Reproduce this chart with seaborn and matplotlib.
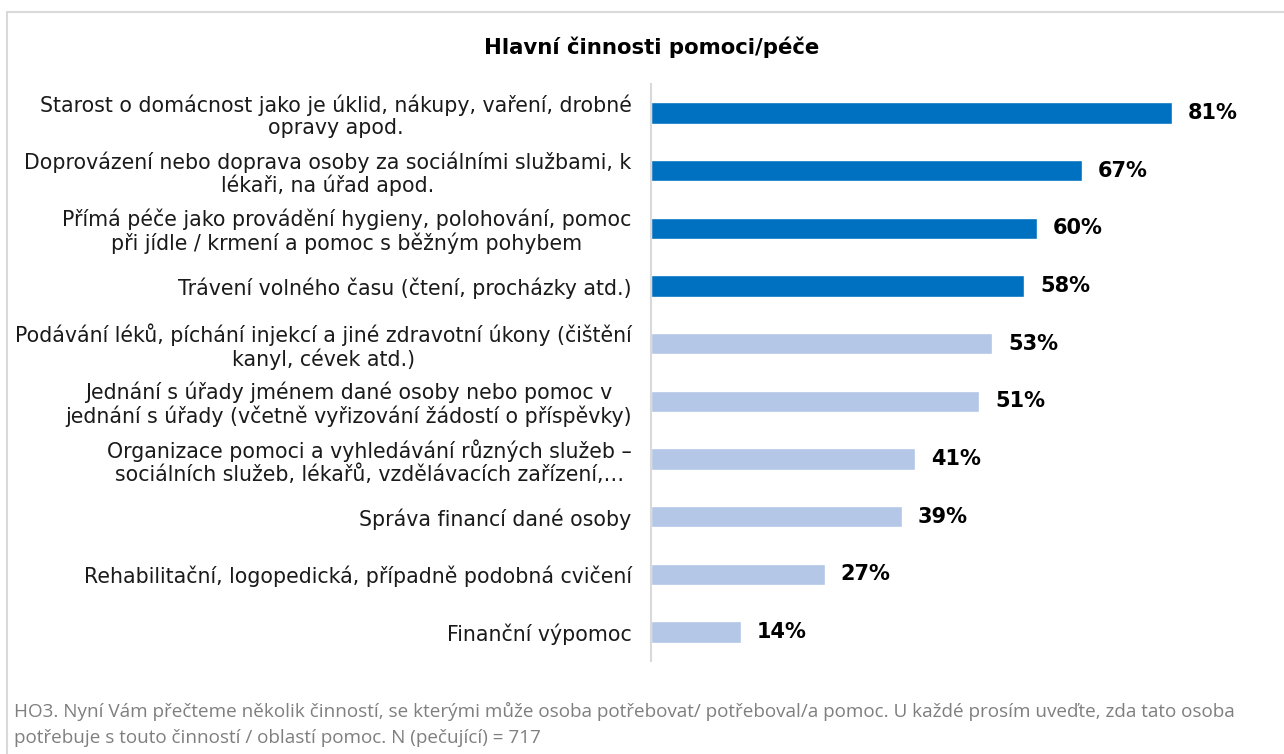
import matplotlib
matplotlib.use("Agg")
import matplotlib.pyplot as plt
from matplotlib.patches import Rectangle
import seaborn as sns
import pandas as pd

sns.set_theme(style="white")
plt.rcParams["font.family"] = ["DejaVu Sans"]

categories = [
    "Starost o domácnost jako je úklid, nákupy, vaření, drobné\nopravy apod.",
    "Doprovázení nebo doprava osoby za sociálními službami, k\nlékaři, na úřad apod.",
    "Přímá péče jako provádění hygieny, polohování, pomoc\npři jídle / krmení a pomoc s běžným pohybem",
    "Trávení volného času (čtení, procházky atd.)",
    "Podávání léků, píchání injekcí a jiné zdravotní úkony (čištění\nkanyl, cévek atd.)",
    "Jednání s úřady jménem dané osoby nebo pomoc v\njednání s úřady (včetně vyřizování žádostí o příspěvky)",
    "Organizace pomoci a vyhledávání různých služeb –\nsociálních služeb, lékařů, vzdělávacích zařízení,…",
    "Správa financí dané osoby",
    "Rehabilitační, logopedická, případně podobná cvičení",
    "Finanční výpomoc",
]
values = [81, 67, 60, 58, 53, 51, 41, 39, 27, 14]
highlighted = [True, True, True, True, False, False, False, False, False, False]

title = "Hlavní činnosti pomoci/péče"
footnote_lines = [
    "HO3. Nyní Vám přečteme několik činností, se kterými může osoba potřebovat/ potřeboval/a pomoc. "
    "U každé prosím uveďte, zda tato osoba",
    "potřebuje s touto činností / oblastí pomoc. N (pečující) = 717",
]

DARK = "#0070C0"
LIGHT = "#B4C7E7"

df = pd.DataFrame({"category": categories, "value": values})
palette = {c: (DARK if h else LIGHT) for c, h in zip(categories, highlighted)}

W, H = 1284, 754
fig = plt.figure(figsize=(W / 100, H / 100), dpi=100)
fig.patch.set_facecolor("white")

# frame around the chart area
fig.add_artist(Rectangle((7 / W, -0.05), 1.1, (H - 12) / H + 0.05, transform=fig.transFigure,
                         fill=False, edgecolor="#D9D9D9", linewidth=1.5))

x0, x1 = 651, 1270
y_top, y_bot = 84, 661
ax = fig.add_axes([x0 / W, (H - y_bot) / H, (x1 - x0) / W, (y_bot - y_top) / H])
px_per_unit = (1172 - 651) / 81

sns.barplot(data=df, y="category", x="value", hue="category", palette=palette,
            dodge=False, legend=False, width=0.37, orient="h", ax=ax, saturation=1)

ax.set_xlim(0, (x1 - x0) / px_per_unit)
ax.set_ylim(len(categories) - 0.5, -0.5)
ax.set_xlabel("")
ax.set_ylabel("")
ax.set_xticks([])
for s in ["top", "right", "bottom"]:
    ax.spines[s].set_visible(False)
ax.spines["left"].set_color("#D9D9D9")
ax.spines["left"].set_linewidth(1.5)
ax.set_facecolor("none")

ax.tick_params(axis="y", length=0, pad=14)
ax.set_yticks(range(len(categories)))
ax.set_yticklabels(categories, fontsize=14.8, color="#1a1a1a", multialignment="center",
                   linespacing=1.12)

for i, v in enumerate(values):
    ax.text(v + 16 / px_per_unit, i, f"{v}%", va="center", ha="left",
            fontsize=15, fontweight="bold", color="#000000")

fig.text(652 / W, (H - 47) / H, title, ha="center", va="center",
         fontsize=15.3, fontweight="bold", color="#000000")

# source note, one line at a time for exact spacing
for k, (line, ypx) in enumerate(zip(footnote_lines, [711, 738])):
    fig.text(14 / W, (H - ypx) / H, line, ha="left", va="center",
             fontsize=13.6, color="#7f7f7f", family=["Open Sans", "DejaVu Sans"])

fig.savefig("out.png", dpi=100, facecolor="white")
